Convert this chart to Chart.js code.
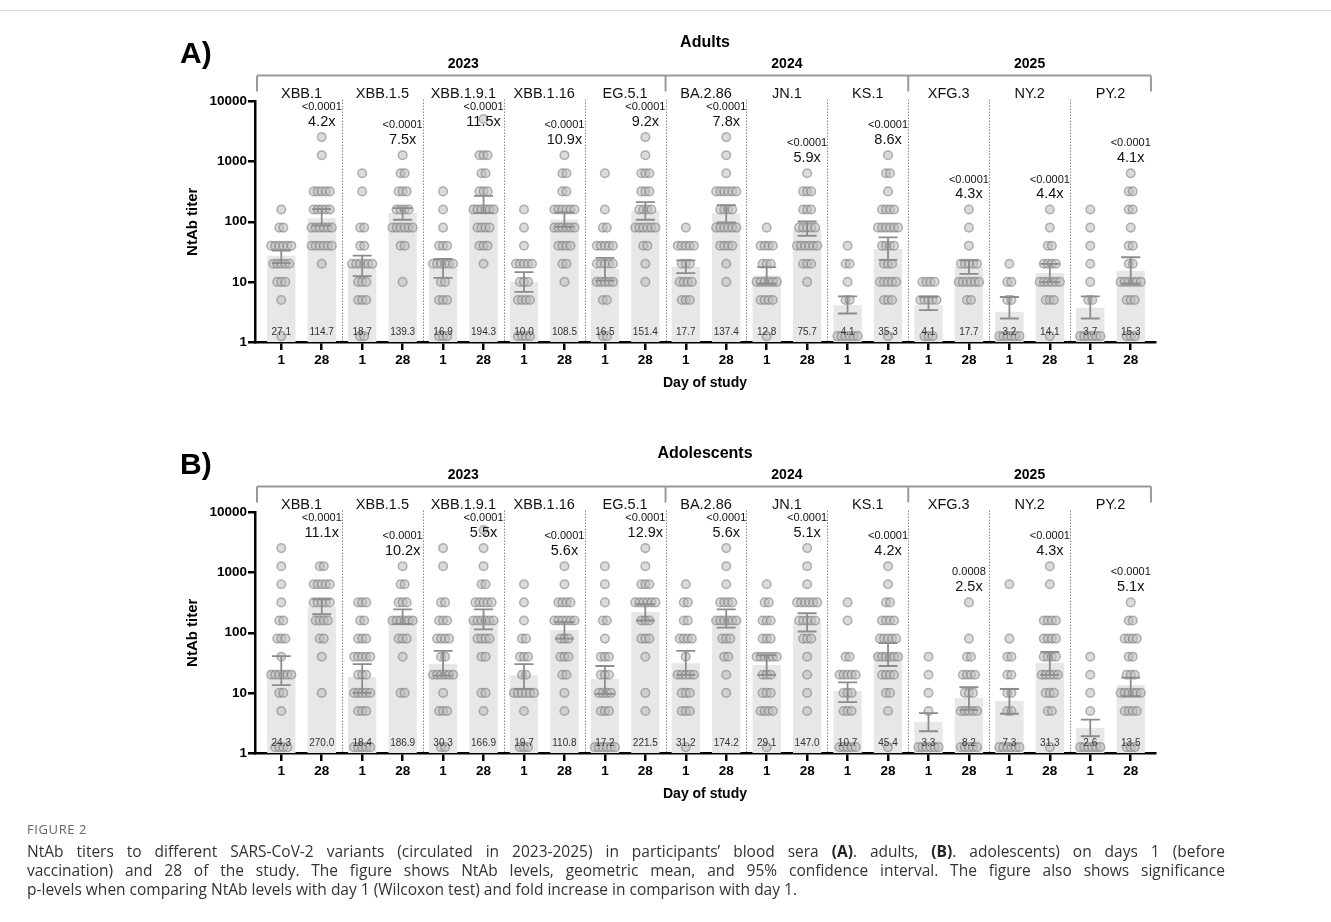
<!DOCTYPE html>
<html><head><meta charset="utf-8">
<script src="https://cdn.jsdelivr.net/npm/chart.js@4.4.1/dist/chart.umd.min.js"></script>
<style>
html,body{margin:0;padding:0;background:#fff;}
body{width:1331px;height:922px;position:relative;overflow:hidden;}
canvas{position:absolute;left:0;}
#rule{position:absolute;left:0;top:10px;width:1331px;height:1px;background:#d9d9d9;}
#cap{position:absolute;left:27px;top:820px;width:1198px;font-family:"Open Sans",sans-serif;color:#333;}
#cap .fig{font-size:13px;color:#666;letter-spacing:0.6px;line-height:18px;margin-bottom:4px;}
#cap .ln{font-size:15.5px;line-height:19px;white-space:nowrap;}
#cap .j{text-align:justify;text-align-last:justify;}
#cap b{color:#222;}
</style></head>
<body>
<div id="rule"></div>
<canvas id="chartA" width="1331" height="411" style="top:0"></canvas>
<canvas id="chartB" width="1331" height="411" style="top:411px"></canvas>
<div id="cap">
<div class="fig">FIGURE 2</div>
<div class="ln j">NtAb titers to different SARS-CoV-2 variants (circulated in 2023-2025) in participants’ blood sera <b>(A)</b>. adults, <b>(B)</b>. adolescents) on days 1 (before</div>
<div class="ln j">vaccination) and 28 of the study. The figure shows NtAb levels, geometric mean, and 95% confidence interval. The figure also shows significance</div>
<div class="ln">p-levels when comparing NtAb levels with day 1 (Wilcoxon test) and fold increase in comparison with day 1.</div>
</div>
<script>
// ---------------- data ----------------
const variants = ['XBB.1','XBB.1.5','XBB.1.9.1','XBB.1.16','EG.5.1','BA.2.86','JN.1','KS.1','XFG.3','NY.2','PY.2'];
const years = ['2023','2024','2025'];
const variantsPerYear = [5, 3, 3];
const dayLabels = ['1','28','1','28','1','28','1','28','1','28','1','28','1','28','1','28','1','28','1','28','1','28'];
const yTicks = [1, 10, 100, 1000, 10000];
// titer levels at which individual sera are plotted (1.25 = below detection)
const titerLevels = [1.25, 5, 10, 20, 40, 80, 160, 320, 640, 1280, 2560, 5120];

// Adults
const adultsGMT  = [27.1,114.7, 18.7,139.3, 16.9,194.3, 10.0,108.5, 16.5,151.4, 17.7,137.4, 12.8,75.7, 4.1,35.3, 4.1,17.7, 3.2,14.1, 3.7,15.3];
const adultsLow  = [20.5,86, 12.5,108, 11.7,140, 6.8,82, 10.5,108, 14,98, 9.3,58.5, 2.98,23.3, 3.38,13.6, 2.46,9.9, 2.46,9.3];
const adultsHigh = [33,162, 27.4,168, 24,270, 14.5,143, 25,212, 22.7,189, 17.6,101, 5.76,55, 5.6,22.7, 5.6,20, 5.76,25.7];
const adultsP    = ['<0.0001','<0.0001','<0.0001','<0.0001','<0.0001','<0.0001','<0.0001','<0.0001','<0.0001','<0.0001','<0.0001'];
const adultsFold = ['4.2x','7.5x','11.5x','10.9x','9.2x','7.8x','5.9x','8.6x','4.3x','4.4x','4.1x'];
const adultsCounts = [
  [1,1,3,5,6,2,1,0,0,0,0,0],[0,0,0,1,6,6,5,5,0,1,1,0],
  [2,3,3,6,2,2,0,1,1,0,0,0],[0,0,1,0,2,6,4,3,2,1,0,0],
  [3,3,2,6,3,1,1,1,0,0,0,0],[0,0,0,1,3,4,6,3,2,3,0,1],
  [4,4,3,5,1,1,1,0,0,0,0,0],[0,0,1,2,4,6,6,2,2,1,0,0],
  [2,2,5,5,5,2,1,0,1,0,0,0],[0,0,1,1,2,6,4,3,3,1,1,0],
  [0,3,4,3,5,1,0,0,0,0,0,0],[0,0,1,1,4,6,4,6,1,1,1,0],
  [1,4,6,3,4,1,0,0,0,0,0,0],[0,0,1,3,6,5,3,3,1,0,0,0],
  [6,2,1,2,1,0,0,0,0,0,0,0],[1,3,5,3,4,6,4,1,2,1,0,0],
  [3,5,4,0,0,0,0,0,0,0,0,0],[0,2,6,5,1,1,1,0,0,0,0,0],
  [6,2,2,1,0,0,0,0,0,0,0,0],[1,3,6,4,2,1,1,0,0,0,0,0],
  [6,2,1,1,1,1,1,0,0,0,0,0],[3,3,6,2,2,1,2,2,1,0,0,0]
];

// Adolescents
const adolGMT  = [24.3,270.0, 18.4,186.9, 30.3,166.9, 19.7,110.8, 17.2,221.5, 31.2,174.2, 29.1,147.0, 10.7,45.4, 3.3,8.2, 7.3,31.3, 2.6,13.5];
const adolLow  = [13.5,203, 10,140, 19.3,114, 11.6,80, 9.6,160, 20,122, 20,105, 7,28, 2.3,5.2, 4.5,20, 1.9,8.8];
const adolHigh = [41,360, 30,245, 50,245, 30,150, 28,300, 50,245, 42,211, 15,67, 4.6,12.4, 11.6,48, 3.6,18];
const adolP    = ['<0.0001','<0.0001','<0.0001','<0.0001','<0.0001','<0.0001','<0.0001','<0.0001','0.0008','<0.0001','<0.0001'];
const adolFold = ['11.1x','10.2x','5.5x','5.6x','12.9x','5.6x','5.1x','4.2x','2.5x','4.3x','5.1x'];
const adolCounts = [
  [4,1,2,6,1,3,2,1,1,1,1,0],[0,0,1,0,1,2,4,5,5,2,0,0],
  [5,3,5,3,5,3,2,3,0,0,0,0],[0,0,2,0,1,3,6,3,2,1,0,0],
  [2,3,1,6,2,4,3,2,0,1,1,0],[0,1,2,0,2,4,6,5,2,1,1,1],
  [3,1,6,2,3,2,1,1,1,0,0,0],[0,1,1,2,3,3,6,4,1,1,0,0],
  [6,3,4,3,3,1,2,1,1,1,0,0],[0,1,1,0,1,3,3,6,3,1,1,0],
  [1,3,3,5,1,4,2,2,1,0,0,0],[0,0,1,1,2,3,6,4,1,1,1,0],
  [1,4,3,3,6,3,3,2,1,0,0,0],[0,1,1,1,1,3,5,6,1,1,1,0],
  [5,3,3,5,2,0,1,1,0,0,0,0],[1,1,2,4,6,5,4,2,1,1,0,0],
  [6,1,1,1,1,0,0,0,0,0,0,0],[5,5,3,4,2,1,0,1,0,0,0,0],
  [6,2,2,2,2,1,0,0,1,0,0,0],[1,2,3,5,4,4,4,0,1,1,0,0],
  [6,1,1,1,1,0,0,0,0,0,0,0],[3,4,6,3,2,4,2,1,0,0,0,0]
];

// ---------------- drawing ----------------
const FONT = '"Liberation Sans", Arial, Helvetica, sans-serif';
const DOT_STEP = 0.1; // horizontal spacing of overlapping dots (x units)

function dotPoints(counts) {
  const pts = [];
  counts.forEach((levelCounts, i) => {
    levelCounts.forEach((n, li) => {
      for (let k = 0; k < n; k++) {
        pts.push({ x: i + (k - (n - 1) / 2) * DOT_STEP, y: titerLevels[li] });
      }
    });
  });
  return pts;
}

function panelPlugin(p) {
  return {
    id: 'panelDeco',
    beforeDatasetsDraw(chart) {
      const { ctx, chartArea: a, scales: { x } } = chart;
      ctx.save();
      ctx.strokeStyle = '#8a8a8a'; ctx.lineWidth = 1; ctx.setLineDash([1.5, 1.5]);
      for (let v = 1; v < variants.length; v++) {
        const px = Math.round(x.getPixelForValue(2 * v - 0.5)) + 0.5;
        ctx.beginPath(); ctx.moveTo(px, a.top - 2); ctx.lineTo(px, a.bottom - 1); ctx.stroke();
      }
      ctx.restore();
    },
    afterDatasetsDraw(chart) {
      const { ctx, chartArea: a, scales: { x, y } } = chart;
      ctx.save();
      ctx.strokeStyle = '#8c8c8c'; ctx.lineWidth = 1.8;
      p.gmt.forEach((g, i) => {
        const px = x.getPixelForValue(i);
        const yl = y.getPixelForValue(p.low[i]), yh = y.getPixelForValue(p.high[i]);
        ctx.beginPath();
        ctx.moveTo(px, yl); ctx.lineTo(px, yh);
        ctx.moveTo(px - 9.5, yl); ctx.lineTo(px + 9.5, yl);
        ctx.moveTo(px - 9.5, yh); ctx.lineTo(px + 9.5, yh);
        ctx.stroke();
      });
      ctx.fillStyle = '#333'; ctx.font = '10px ' + FONT;
      ctx.textAlign = 'center'; ctx.textBaseline = 'middle';
      p.gmt.forEach((g, i) => ctx.fillText(g.toFixed(1), x.getPixelForValue(i), a.bottom - 10));
      ctx.restore();
    },
    afterDraw(chart) {
      const { ctx, chartArea: a, scales: { x, y } } = chart;
      const cx = (a.left + a.right) / 2;
      ctx.save();
      ctx.fillStyle = '#000'; ctx.textBaseline = 'middle';
      // panel letter
      ctx.font = 'bold 30px ' + FONT; ctx.textAlign = 'left';
      ctx.fillText(p.letter, 180, a.top - 47);
      // title
      ctx.font = 'bold 16px ' + FONT; ctx.textAlign = 'center';
      ctx.fillText(p.title, cx, a.top - 59);
      // years + bracket
      ctx.font = 'bold 14px ' + FONT;
      let start = 0;
      const bounds = [x.getPixelForValue(-0.6)];
      variantsPerYear.forEach((n, yi) => {
        const c = x.getPixelForValue(start * 2 + n - 0.5);
        ctx.fillText(years[yi], c, a.top - 37.5);
        start += n;
        bounds.push(x.getPixelForValue(start * 2 - 0.5));
      });
      ctx.strokeStyle = '#9a9a9a'; ctx.lineWidth = 2;
      const by = a.top - 26;
      ctx.beginPath();
      ctx.moveTo(bounds[0], by); ctx.lineTo(bounds[bounds.length - 1], by);
      bounds.forEach(b => { ctx.moveTo(b, by); ctx.lineTo(b, a.top - 10); });
      ctx.stroke();
      // variant names
      ctx.fillStyle = '#111'; ctx.font = '14.5px ' + FONT;
      variants.forEach((v, i) => ctx.fillText(v, x.getPixelForValue(2 * i + 0.5), a.top - 7.5));
      // p-values and fold increase above day-28 column
      variants.forEach((v, i) => {
        let maxLevel = 1;
        [p.counts[2 * i], p.counts[2 * i + 1]].forEach(c => c.forEach((n, li) => { if (n > 0) maxLevel = Math.max(maxLevel, titerLevels[li]); }));
        const ly = Math.max(y.getPixelForValue(maxLevel) - 30, a.top + 5.5);
        const lx = x.getPixelForValue(2 * i + 1);
        ctx.font = '11px ' + FONT; ctx.fillText(p.pv[i], lx, ly);
        ctx.font = '14.5px ' + FONT; ctx.fillText(p.fold[i], lx, ly + 15);
      });
      // axis titles
      ctx.fillStyle = '#000';
      ctx.font = 'bold 14px ' + FONT;
      ctx.fillText('Day of study', cx, a.bottom + 41);
      ctx.translate(193, (a.top + a.bottom) / 2);
      ctx.rotate(-Math.PI / 2);
      ctx.font = 'bold 15px ' + FONT;
      ctx.fillText('NtAb titer', 0, 0);
      ctx.restore();
    }
  };
}

function makePanel(canvasId, p) {
  new Chart(document.getElementById(canvasId), {
    type: 'bar',
    data: {
      datasets: [
        {
          type: 'scatter', order: 1,
          data: dotPoints(p.counts),
          pointRadius: 4.3, pointHoverRadius: 4.3,
          backgroundColor: 'rgba(190,190,190,0.55)',
          borderColor: 'rgba(120,120,120,0.55)', borderWidth: 1.5,
          clip: false
        },
        {
          type: 'bar', order: 2,
          data: p.gmt.map((g, i) => ({ x: i, y: g })),
          backgroundColor: '#e7e7e7', borderWidth: 0,
          barPercentage: 0.7, categoryPercentage: 1
        }
      ]
    },
    options: {
      responsive: false, animation: false,
      layout: { padding: { left: 155, right: 176, top: 101.5, bottom: 0 } },
      plugins: { legend: { display: false }, tooltip: { enabled: false } },
      scales: {
        x: {
          type: 'linear', min: -0.65, max: 21.6, offset: false,
          afterBuildTicks: s => { s.ticks = dayLabels.map((_, i) => ({ value: i })); },
          afterFit: s => { s.height = 69; },
          ticks: {
            callback: v => dayLabels[v], autoSkip: false, maxRotation: 0,
            font: { family: FONT, size: 13.5, weight: 'bold' }, color: '#000', padding: 2
          },
          grid: { offset: false, drawOnChartArea: false, drawTicks: true, tickLength: 8, color: '#000', lineWidth: 2.5 },
          border: { display: true, color: '#000', width: 2.5 }
        },
        y: {
          type: 'logarithmic', min: 1, max: 10000,
          afterBuildTicks: s => { s.ticks = yTicks.map(v => ({ value: v })); },
          afterFit: s => { s.width = 100; },
          ticks: {
            callback: v => String(v),
            font: { family: FONT, size: 13.5, weight: 'bold' }, color: '#000', padding: 1
          },
          grid: { drawOnChartArea: false, drawTicks: true, tickLength: 7, color: '#000', lineWidth: 2.5 },
          border: { display: true, color: '#000', width: 2.5 }
        }
      }
    },
    plugins: [panelPlugin(p)]
  });
}

makePanel('chartA', { letter: 'A)', title: 'Adults', gmt: adultsGMT, low: adultsLow, high: adultsHigh, pv: adultsP, fold: adultsFold, counts: adultsCounts });
makePanel('chartB', { letter: 'B)', title: 'Adolescents', gmt: adolGMT, low: adolLow, high: adolHigh, pv: adolP, fold: adolFold, counts: adolCounts });
</script>
</body></html>
